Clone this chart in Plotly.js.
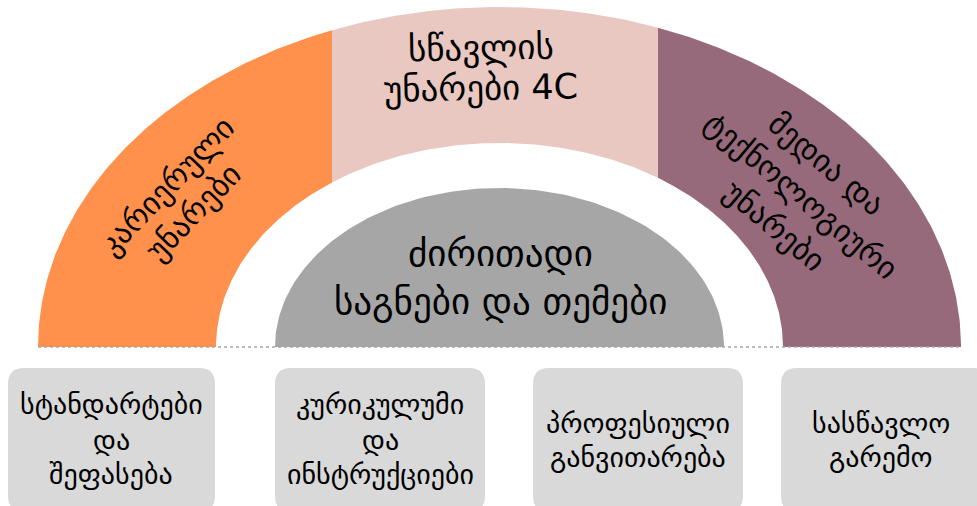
<!DOCTYPE html>
<html>
<head>
<meta charset="utf-8">
<script src="https://cdn.plot.ly/plotly-3.0.1.min.js"></script>
<style>html,body{margin:0;padding:0;background:#fff;}#chart{width:977px;height:506px;}</style>
</head>
<body>
<div id="chart"></div>
<script>
// ---- content ----
var arcLabels = [["კარიერული", "უნარები"], ["სწავლის", "უნარები 4C"], ["მედია და", "ტექნოლოგიური", "უნარები"]];
var arcColors = ["#FF914D", "#E8C8C1", "#976A7B"];
var coreLabel = ["ძირითადი", "საგნები და თემები"];
var boxLabels = [["სტანდარტები", "და", "შეფასება"], ["კურიკულუმი", "და", "ინსტრუქციები"], ["პროფესიული", "განვითარება"], ["სასწავლო", "გარემო"]];

// ---- geometry ----
var W = 977, H = 506;
var cx = 499.5, cy = 347;
var RO = {a: 461.5, b: 340};   // outer ellipse
var RI = {a: 283.5, b: 204};   // inner ellipse
var RC = {a: 224.5, b: 159};   // core dome
var cuts = [332, 658];
var N = 120;

function arcPts(r, t0, t1) {
  var xs = [], ys = [];
  for (var i = 0; i <= N; i++) {
    var t = t0 + (t1 - t0) * i / N;
    xs.push(cx + r.a * Math.cos(t));
    ys.push(cy - r.b * Math.sin(t));
  }
  return {x: xs, y: ys};
}
function tAt(r, x) { return Math.acos((x - cx) / r.a); }

var bounds = [Math.PI, tAt(RO, cuts[0]), tAt(RO, cuts[1]), 0];
var boundsIn = [Math.PI, tAt(RI, cuts[0]), tAt(RI, cuts[1]), 0];

var traces = [];
for (var s = 0; s < 3; s++) {
  var o = arcPts(RO, bounds[s], bounds[s + 1]);
  var inn = arcPts(RI, boundsIn[s + 1], boundsIn[s]);
  traces.push({
    type: "scatter", mode: "lines",
    x: o.x.concat(inn.x), y: o.y.concat(inn.y),
    fill: "toself", fillcolor: arcColors[s],
    line: {width: 0, color: arcColors[s]}, hoverinfo: "skip", showlegend: false
  });
}
var core = arcPts(RC, Math.PI, 0);
traces.push({
  type: "scatter", mode: "lines", x: core.x, y: core.y,
  fill: "toself", fillcolor: "#A6A6A6",
  line: {width: 0, color: "#A6A6A6"}, hoverinfo: "skip", showlegend: false
});
traces.push({
  type: "scatter", mode: "lines", x: [cx - RO.a, cx + RO.a], y: [cy, cy],
  line: {width: 1.5, color: "#A6A6A6", dash: "dot"}, hoverinfo: "skip", showlegend: false
});

// boxes
var boxes = [
  {x0: 8, x1: 215, tx: 111, ty: [404, 440, 474]},
  {x0: 275, x1: 485, tx: 380, ty: [404, 440, 474]},
  {x0: 533, x1: 743, tx: 638, ty: [423, 457]},
  {x0: 781, x1: 990, tx: 881, ty: [423, 457]}
];
var boxY0 = 368, boxY1 = 512, rr = 16;
function roundRect(x0, y0, x1, y1, r) {
  return "M" + (x0 + r) + "," + y0 + " L" + (x1 - r) + "," + y0 +
    " Q" + x1 + "," + y0 + " " + x1 + "," + (y0 + r) +
    " L" + x1 + "," + (y1 - r) + " Q" + x1 + "," + y1 + " " + (x1 - r) + "," + y1 +
    " L" + (x0 + r) + "," + y1 + " Q" + x0 + "," + y1 + " " + x0 + "," + (y1 - r) +
    " L" + x0 + "," + (y0 + r) + " Q" + x0 + "," + y0 + " " + (x0 + r) + "," + y0 + " Z";
}
var shapes = boxes.map(function (b) {
  return {type: "path", xref: "x", yref: "y", path: roundRect(b.x0, boxY0, b.x1, boxY1, rr),
    fillcolor: "#D9D9D9", line: {width: 0}, layer: "below"};
});

var font = "DejaVu Sans, sans-serif";
var annotations = [];
function addLine(t, x, y, ang, size) {
  annotations.push({x: x, y: y, xref: "x", yref: "y", text: t, showarrow: false, textangle: ang,
    font: {family: font, size: size, color: "#000"}, xanchor: "center", yanchor: "middle"});
}
boxLabels.forEach(function (lines, i) {
  lines.forEach(function (t, j) { addLine(t, boxes[i].tx, boxes[i].ty[j], 0, 28); });
});
var corePos = [{x: 500, y: 253}, {x: 500, y: 301}];
coreLabel.forEach(function (t, j) { addLine(t, corePos[j].x, corePos[j].y, 0, 37); });

// rotated arc labels: block centre, angle, line spacing
var arcBlocks = [
  {x: 180, y: 199, a: -46, d: 37, size: 31},
  {x: 481, y: 68, a: -1, d: 40, size: 35},
  {x: 801, y: 195, a: 40, d: 41, size: 31}
];
arcLabels.forEach(function (lines, i) {
  var b = arcBlocks[i], r = b.a * Math.PI / 180;
  var vx = -Math.sin(r), vy = Math.cos(r);
  lines.forEach(function (t, j) {
    var k = j - (lines.length - 1) / 2;
    addLine(t, b.x + k * b.d * vx, b.y + k * b.d * vy, b.a, b.size);
  });
});

var layout = {
  width: W, height: H, margin: {l: 0, r: 0, t: 0, b: 0},
  paper_bgcolor: "#fff", plot_bgcolor: "#fff",
  xaxis: {range: [0, W], visible: false, fixedrange: true},
  yaxis: {range: [H, 0], visible: false, fixedrange: true},
  shapes: shapes, annotations: annotations, showlegend: false
};
Plotly.newPlot("chart", traces, layout, {displayModeBar: false, staticPlot: true});
</script>
</body>
</html>
